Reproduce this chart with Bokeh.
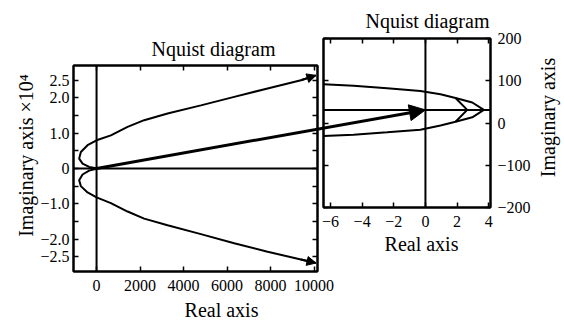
import math
from bokeh.plotting import figure
from bokeh.models import (Range1d, FixedTicker, Span, Arrow, NormalHead, LinearAxis,
                          Label, CustomJSTickFormatter)
from bokeh.embed import file_html
from bokeh.resources import INLINE

# ---------------- data: overall Nyquist plot (imaginary part in units of 1e4)
left_upper_re = [46, -340, -644, -800, -722, -414, 0, 658, 1426, 2190, 3266, 4798, 6330, 7866, 9398, 10088]
left_upper_im = [0, 0.045, 0.14, 0.28, 0.47, 0.66, 0.80, 0.94, 1.18, 1.37, 1.56, 1.79, 2.03, 2.27, 2.50, 2.64]
left_lower_re = [46, -340, -644, -800, -722, -414, 0, 658, 1426, 2190, 3266, 4798, 6330, 7866, 9398, 10088]
left_lower_im = [0, -0.06, -0.17, -0.33, -0.50, -0.68, -0.82, -0.98, -1.22, -1.42, -1.61, -1.86, -2.12, -2.36, -2.58, -2.68]
left_xticks = [0, 2000, 4000, 6000, 8000, 10000]
left_xlabels = ["0", "2000", "4000", "6000", "8000", "10000"]
left_yticks = [-2.5, -2.0, -1.5, -1.0, -0.5, 0, 0.5, 1.0, 1.5, 2.0, 2.5]
left_ylabels = ["−2.5", "−2.0", "", "−1.0", "", "0", "", "1.0", "", "2.0", "2.5"]
left_xlim = (-1060, 10160)
left_ylim = (-2.92, 2.92)

# ---------------- data: zoomed Nyquist plot near the origin
right_outer_re = [-6.44, -4.54, -2.42, -0.32, 0.95, 1.9, 2.96, 3.69, 2.96, 1.9, 0.95, -0.32, -2.42, -4.54, -6.44]
right_outer_im = [92, 88, 82.5, 76, 68, 59, 48.5, 31, 13.5, 3, -6, -16, -22, -28, -31]
right_inner_re = [1.9, 2.64, 1.9]
right_inner_im = [59, 31, 3]
right_axis_im = 31
right_xticks = [-6, -4, -2, 0, 2, 4]
right_xlabels = ["−6", "−4", "−2", "0", "2", "4"]
right_yticks = [-200, -100, 0, 100, 200]
right_ylabels = ["−200", "−100", "0", "100", "200"]
right_xlim = (-6.44, 4.11)
right_ylim = (-200, 200)

title_text = "Nquist diagram"
left_xlabel = "Real axis"
left_ylabel = "Imaginary axis ×10⁴"
right_xlabel = "Real axis"
right_ylabel = "Imaginary axis"

# ---------------- layout (the page template has no body margin)
W, H = 564, 323
FONT = "Liberation Serif"
LF = dict(left=73, top=65, fw=244, fh=206)
RF = dict(left=323, top=38, fw=167, fh=169)


def fmt(ticks, labels):
    return CustomJSTickFormatter(
        args=dict(tv=ticks, tl=labels),
        code="const i = tv.findIndex((t) => Math.abs(t - tick) < 1e-6); return i < 0 ? '' : tl[i];")


def style_axis(ax):
    ax.axis_line_width = 2
    ax.major_tick_in = 5
    ax.major_tick_out = 0
    ax.major_tick_line_width = 1.5
    ax.minor_tick_line_color = None
    ax.major_label_text_font = FONT
    ax.major_label_text_font_size = "16px"
    ax.major_label_text_color = "black"


def style(p):
    p.xgrid.visible = False
    p.ygrid.visible = False
    p.outline_line_color = "black"
    p.outline_line_width = 2
    for ax in p.axis:
        style_axis(ax)


def add_tick_only_axis(p, ticks, side):
    ax = LinearAxis(ticker=FixedTicker(ticks=ticks),
                    formatter=CustomJSTickFormatter(code="return '';"))
    style_axis(ax)
    ax.major_label_standoff = 0
    p.add_layout(ax, side)


# ---------------- left figure
pL = figure(width=W, height=H, x_range=Range1d(*left_xlim), y_range=Range1d(*left_ylim),
            output_backend="svg", toolbar_location=None,
            min_border_left=LF["left"], min_border_top=LF["top"],
            min_border_right=W - LF["left"] - LF["fw"], min_border_bottom=H - LF["top"] - LF["fh"])
style(pL)
pL.xaxis.ticker = FixedTicker(ticks=left_xticks)
pL.xaxis.formatter = fmt(left_xticks, left_xlabels)
pL.yaxis.ticker = FixedTicker(ticks=left_yticks)
pL.yaxis.formatter = fmt(left_yticks, left_ylabels)
pL.xaxis.major_label_standoff = 8
pL.yaxis.major_label_standoff = 4
add_tick_only_axis(pL, left_xticks, "above")
add_tick_only_axis(pL, left_yticks, "right")

pL.add_layout(Span(location=0, dimension="height", line_color="black", line_width=2))
pL.add_layout(Span(location=0, dimension="width", line_color="black", line_width=2))
pL.line(left_upper_re, left_upper_im, line_color="black", line_width=2)
pL.line(left_lower_re, left_lower_im, line_color="black", line_width=2)
for xs, ys in ((left_upper_re, left_upper_im), (left_lower_re, left_lower_im)):
    pL.add_layout(Arrow(end=NormalHead(size=9, fill_color="black", line_color="black"),
                        x_start=xs[-2], y_start=ys[-2], x_end=xs[-1], y_end=ys[-1],
                        line_color="black", line_width=2))

# ---------------- right figure (stacked on top of the left one)
pR = figure(width=W, height=H, x_range=Range1d(*right_xlim), y_range=Range1d(*right_ylim),
            output_backend="svg", toolbar_location=None, y_axis_location="right",
            margin=(-H, 0, 0, 0),
            min_border_left=RF["left"], min_border_top=RF["top"],
            min_border_right=W - RF["left"] - RF["fw"], min_border_bottom=H - RF["top"] - RF["fh"])
style(pR)
pR.background_fill_alpha = 0
pR.border_fill_alpha = 0
pR.xaxis.ticker = FixedTicker(ticks=right_xticks)
pR.xaxis.formatter = fmt(right_xticks, right_xlabels)
pR.yaxis.ticker = FixedTicker(ticks=right_yticks)
pR.yaxis.formatter = fmt(right_yticks, right_ylabels)
pR.xaxis.major_label_standoff = 8
pR.yaxis.major_label_standoff = 7
add_tick_only_axis(pR, right_xticks, "above")
add_tick_only_axis(pR, right_yticks, "left")

pR.add_layout(Span(location=0, dimension="height", line_color="black", line_width=2))
pR.add_layout(Span(location=right_axis_im, dimension="width", line_color="black", line_width=2))
pR.line(right_outer_re, right_outer_im, line_color="black", line_width=2)
pR.line(right_inner_re, right_inner_im, line_color="black", line_width=2)


# ---------------- overlay: connecting arrow, titles and axis labels (canvas pixels)
def left_px(x, y):
    return (LF["left"] + (x - left_xlim[0]) / (left_xlim[1] - left_xlim[0]) * LF["fw"],
            LF["top"] + (left_ylim[1] - y) / (left_ylim[1] - left_ylim[0]) * LF["fh"])


def right_px(x, y):
    return (RF["left"] + (x - right_xlim[0]) / (right_xlim[1] - right_xlim[0]) * RF["fw"],
            RF["top"] + (right_ylim[1] - y) / (right_ylim[1] - right_ylim[0]) * RF["fh"])


sx0, sy0 = left_px(0, 0)
sx1, sy1 = right_px(0, right_axis_im)

pO = figure(width=W, height=H, x_range=Range1d(0, W), y_range=Range1d(H, 0),
            x_axis_type=None, y_axis_type=None, output_backend="svg", toolbar_location=None,
            margin=(-H, 0, 0, 0), min_border=0)
pO.outline_line_color = None
pO.background_fill_alpha = 0
pO.border_fill_alpha = 0
pO.xgrid.visible = False
pO.ygrid.visible = False
pO.add_layout(Arrow(end=NormalHead(size=16, fill_color="black", line_color="black"),
                    x_start=sx0, y_start=sy0, x_end=sx1, y_end=sy1,
                    line_color="black", line_width=3))


def text(x, y, s, angle=0.0):
    pO.add_layout(Label(x=x, y=y, text=s, angle=angle, text_align="center",
                        text_baseline="alphabetic", text_font=FONT,
                        text_font_size="20px", text_color="black"))


LB = LF["top"] + LF["fh"]
RB = RF["top"] + RF["fh"]
RR = RF["left"] + RF["fw"]
text(LF["left"] + 140, LF["top"] - 17, title_text)
text(RF["left"] + 104, RF["top"] - 18, title_text)
text(LF["left"] + 148, LB + 38, left_xlabel)
text(RF["left"] + 98, RB + 36, right_xlabel)
text(LF["left"] - 48, LF["top"] + 90, left_ylabel, math.pi / 2)
text(RR + 57, RF["top"] + 79, right_ylabel, math.pi / 2)

open("out.html", "w").write(file_html([pL, pR, pO], INLINE))
